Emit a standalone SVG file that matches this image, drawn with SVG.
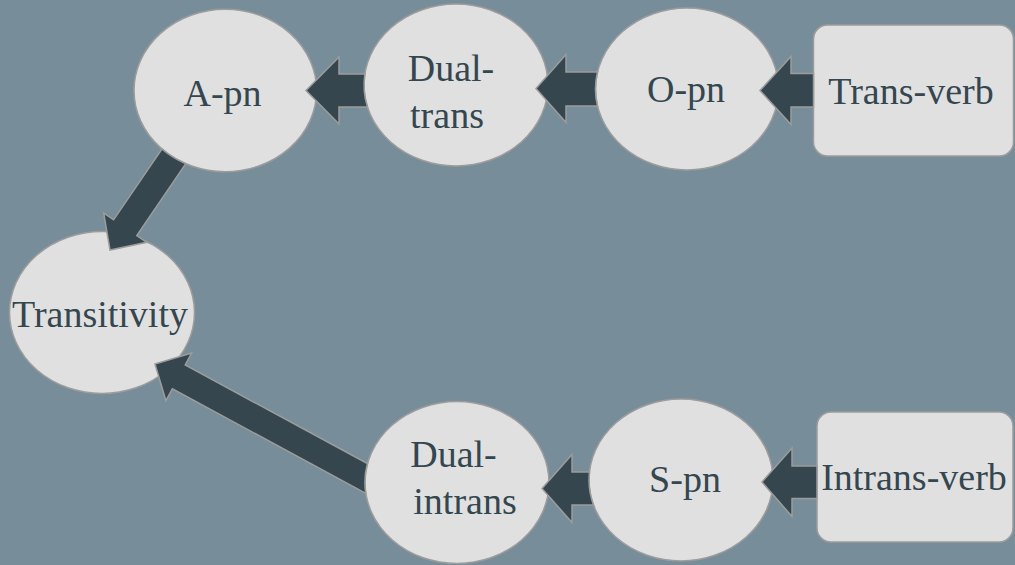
<svg xmlns="http://www.w3.org/2000/svg" width="1015" height="565" viewBox="0 0 1015 565">
  <style>
    .node { fill: #e0e0e0; stroke: #9c9c9c; stroke-width: 1.5; }
    .arrow { fill: #35464f; stroke: #9c9c9c; stroke-width: 1.5; stroke-linejoin: miter; }
    .label { font-family: "Liberation Serif", "Times New Roman", serif; font-size: 38px; fill: #34464f; text-anchor: middle; }
  </style>

  <!-- backdrop -->
  <rect x="0" y="0" width="1015" height="565" fill="#778e9a"/>

  <!-- nodes -->
  <g id="node-transitivity">
    <ellipse class="node" cx="102" cy="312.5" rx="92.5" ry="81"/>
    <text class="label" x="100" y="327">Transitivity</text>
  </g>
  <g id="node-a-pn">
    <ellipse class="node" cx="225.3" cy="90.5" rx="91.3" ry="81.2"/>
    <text class="label" x="222.5" y="106">A-pn</text>
  </g>
  <g id="node-dual-trans">
    <ellipse class="node" cx="456" cy="85" rx="92" ry="81"/>
    <text class="label" x="451" y="81">Dual-</text>
    <text class="label" x="447" y="128">trans</text>
  </g>
  <g id="node-o-pn">
    <ellipse class="node" cx="687" cy="89" rx="91.5" ry="81"/>
    <text class="label" x="686" y="101.5">O-pn</text>
  </g>
  <g id="node-trans-verb">
    <rect class="node" x="813.5" y="25" width="200" height="131" rx="14" ry="14"/>
    <text class="label" x="911" y="104">Trans-verb</text>
  </g>
  <g id="node-dual-intrans">
    <ellipse class="node" cx="457" cy="482.5" rx="92" ry="81"/>
    <text class="label" x="453.5" y="466.5">Dual-</text>
    <text class="label" x="465" y="513.5">intrans</text>
  </g>
  <g id="node-s-pn">
    <ellipse class="node" cx="681" cy="480" rx="92" ry="81"/>
    <text class="label" x="685" y="491.5">S-pn</text>
  </g>
  <g id="node-intrans-verb">
    <rect class="node" x="817" y="412" width="196" height="130" rx="14" ry="14"/>
    <text class="label" x="914" y="490">Intrans-verb</text>
  </g>

  <!-- block-arrow connectors; each tail follows the outline of its source shape -->
  <g id="connectors">
    <!-- Dual-trans -> A-pn -->
    <path class="arrow" d="M306,90.5 L339,57 L339,74 L364.9,74 A92,81 0 0 0 367.5,107 L339,107 L339,124 Z"/>
    <!-- O-pn -> Dual-trans -->
    <path class="arrow" d="M536,88.5 L566,54.5 L566,72 L597.5,72 A91.5,81 0 0 0 597.5,106 L566,106 L566,122.5 Z"/>
    <!-- Trans-verb -> O-pn -->
    <path class="arrow" d="M760,90.5 L791,56.5 L791,73.5 L813.5,73.5 L813.5,107 L791,107 L791,124.5 Z"/>
    <!-- S-pn -> Dual-intrans -->
    <path class="arrow" d="M542,488.5 L572,454.5 L572,472 L589.5,472 A92,81 0 0 0 593.5,505 L572,505 L572,522.5 Z"/>
    <!-- Intrans-verb -> S-pn -->
    <path class="arrow" d="M762,482 L792,448 L792,466 L817,466 L817,498.5 L792,498.5 L792,516.5 Z"/>
    <!-- A-pn -> Transitivity -->
    <path class="arrow" d="M110,250 L103.7,213.1 L113.6,219.8 L161.9,149 A91.3,81.2 0 0 0 185.8,163.7 L136.8,235.6 L146.7,242.3 Z"/>
    <!-- Dual-intrans -> Transitivity -->
    <path class="arrow" d="M155,364 L191.6,353.1 L185.2,365 L367.4,463.5 A92,81 0 0 0 365.8,493.4 L172.4,388.8 L165.9,400.7 Z"/>
  </g>
</svg>
